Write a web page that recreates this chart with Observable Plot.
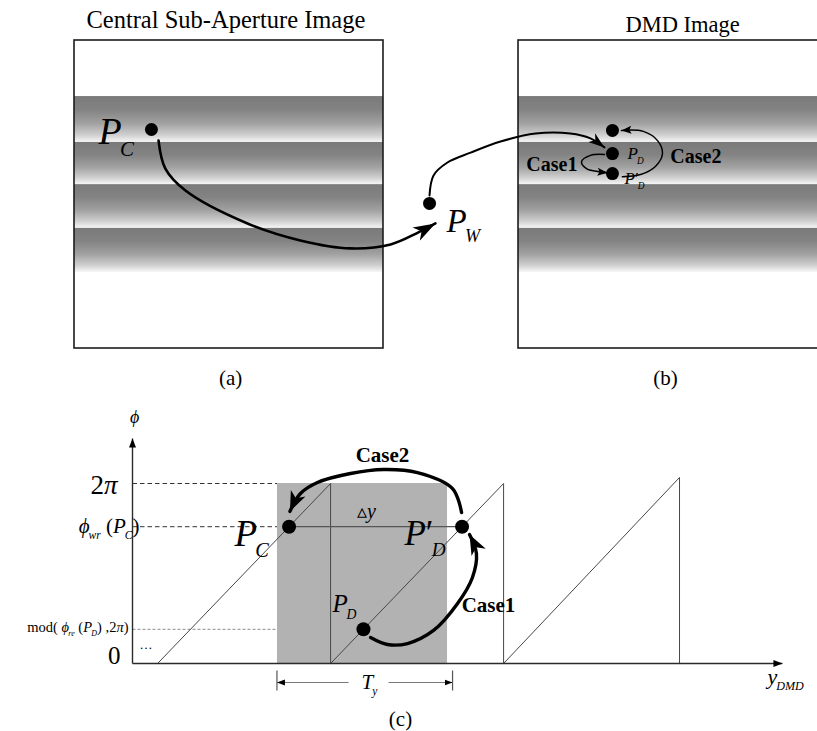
<!DOCTYPE html>
<html><head><meta charset="utf-8">
<script src="https://cdn.jsdelivr.net/npm/d3@7"></script>
<script src="https://cdn.jsdelivr.net/npm/@observablehq/plot@0.6"></script>
<style>
html,body{margin:0;padding:0;background:#fff;overflow:hidden}
#wrap{position:relative;width:817px;height:731px;background:#fff}
#top,#bottom{position:absolute;left:0}
#top{top:0}
#bottom{top:395px}
</style></head>
<body><div id="wrap"><div id="top"></div><div id="bottom"></div></div>
<script>
// ================= DATA =================
// Panels (a) and (b) — unit = side of one panel, y grows downward
const panelTitle = ["Central Sub-Aperture Image", "DMD Image"];
const panelTag = ["(a)", "(b)"];
const panelLeft = [0, 1.437];
const panelRight = [1, 2.437];
const titleX = [0.49, 1.968];
const titleY = [-0.065, -0.05];
const tagX = [0.505, 1.913];
const tagY = [1.097, 1.097];
const bandTop = [0.182, 0.331, 0.468, 0.610];
const bandBottom = [0.331, 0.468, 0.610, 0.753];

// pixels: P_C, P_W, DMD target, P_D, P'_D
const pixelX = [0.249, 1.149, 1.741, 1.741, 1.741];
const pixelY = [0.289, 0.529, 0.292, 0.367, 0.432];

// warp path P_C -> P_W
const warpX = [0.272, 0.294, 0.359, 0.560, 0.731, 0.893, 1.023, 1.113, 1.168];
const warpY = [0.325, 0.416, 0.487, 0.594, 0.649, 0.675, 0.662, 0.623, 0.594];
// mapping path P_W -> DMD
const mapX = [1.149, 1.162, 1.207, 1.282, 1.379, 1.492, 1.605, 1.670, 1.715];
const mapY = [0.503, 0.438, 0.396, 0.364, 0.328, 0.302, 0.302, 0.318, 0.347];
// Case1 / Case2 loops in (b)
const loop1X = [1.715, 1.670, 1.641, 1.657, 1.693, 1.725];
const loop1Y = [0.370, 0.373, 0.393, 0.416, 0.425, 0.429];
const loop2X = [1.773, 1.832, 1.880, 1.903, 1.887, 1.841, 1.770];
const loop2Y = [0.442, 0.435, 0.409, 0.367, 0.325, 0.295, 0.292];

// Chart (c) — x in periods T_y, y in units of π
const rampStart = [0.145, 1.145, 2.145];
const rampEnd = [1.145, 2.145, 3.162];
const rampTop = [2, 2, 2.067];
const xAxisEnd = 3.757;
const yAxisEnd = 2.5;
const levelPhase = [2, 1.52, 0.38];      // 2π, ϕwr(P_C), mod(ϕre(P_D),2π)
const levelReach = [1.145, 0.905, 1.335];
const windowLeft = 0.838, windowRight = 1.821;
const periodTicks = [0.835, 1.85];
const periodGap = [1.249, 1.480];
const periodY = -0.211, periodTickLow = -0.30, periodTickHigh = -0.078;
const pointX = [0.905, 1.905, 1.335];   // P_C, P'_D, P_D
const pointY = [1.52, 1.52, 0.38];
const case2X = [1.902, 1.850, 1.647, 1.451, 1.260, 1.069, 0.971, 0.910];
const case2Y = [1.678, 1.944, 2.122, 2.156, 2.111, 2.011, 1.889, 1.690];
const case1X = [1.376, 1.474, 1.590, 1.740, 1.879, 1.965, 1.988, 1.948];
const case1Y = [0.289, 0.211, 0.222, 0.367, 0.667, 0.956, 1.222, 1.433];

// ================= HELPERS =================
const SVGNS = "http://www.w3.org/2000/svg";
const SERIF = "'Liberation Serif','Times New Roman',serif";
const rows = (xs, ys) => xs.map((x, i) => ({x, y: ys[i]}));
const label = (t, x, y, o = {}) => Plot.text([t], {x: [x], y: [y], text: d => d, fontFamily: SERIF, ...o});

function addDefs(svg, heads, gradient) {
  const defs = d3.select(svg).insert("defs", ":first-child");
  if (gradient) {
    const g = defs.append("linearGradient").attr("id", "bandFill")
      .attr("x1", 0).attr("y1", 0).attr("x2", 0).attr("y2", 1);
    [[0, "#7a7a7a"], [0.3, "#838383"], [0.6, "#a2a2a2"], [0.85, "#d0d0d0"], [1, "#f6f6f6"]]
      .forEach(([o, c]) => g.append("stop").attr("offset", o).attr("stop-color", c));
  }
  for (const [id, L, W, notch] of heads) {
    defs.append("marker").attr("id", id).attr("markerUnits", "userSpaceOnUse")
      .attr("viewBox", `${-L} ${-L} ${2 * L} ${2 * L}`)
      .attr("markerWidth", 2 * L).attr("markerHeight", 2 * L)
      .attr("refX", 0).attr("refY", 0).attr("orient", "auto")
      .append("path").attr("d", `M0,0L${-L},${-W / 2}L${-L * notch},0L${-L},${W / 2}Z`).attr("fill", "#000");
  }
  for (const [id] of heads)
    d3.select(svg).selectAll(`g[aria-description="${id}"] path`).attr("marker-end", `url(#${id})`);
}

function richify(svg) {
  const SUB = 0.55, DOWN = 0.3, TUCK = 0.05;
  d3.select(svg).selectAll("text").each(function () {
    const raw = this.textContent;
    if (!/[*_]/.test(raw)) return;
    const tokens = raw.split(/(_\{[^}]*\}|\*)/).filter(t => t);
    this.textContent = "";
    let italic = false, cur = 0;
    for (const t of tokens) {
      if (t === "*") { italic = !italic; continue; }
      const sub = t.startsWith("_{");
      const scale = sub ? SUB : 1;
      const target = sub ? DOWN : 0;
      const ts = document.createElementNS(SVGNS, "tspan");
      ts.textContent = sub ? t.slice(2, -1) : t;
      if (sub) ts.setAttribute("font-size", SUB + "em");
      if (target !== cur) ts.setAttribute("dy", ((target - cur) / scale).toFixed(3) + "em");
      if (sub) ts.setAttribute("dx", (-TUCK / scale).toFixed(3) + "em");
      ts.setAttribute("font-style", italic ? "italic" : "normal");
      this.appendChild(ts);
      cur = target;
    }
  });
}

// ================= TOP: (a) & (b) =================
const bands = panelLeft.flatMap((l, p) => bandTop.map((t, k) => ({l, r: panelRight[p], t, b: bandBottom[k]})));

const topSvg = Plot.plot({
  width: 817, height: 395, margin: 0,
  x: {domain: [0, 2.437], range: [74, 827], axis: null},
  y: {domain: [0, 1], range: [40, 348], axis: null},
  style: {fontFamily: SERIF, background: "white", color: "black", overflow: "hidden"},
  marks: [
    Plot.rect(bands, {x1: "l", x2: "r", y1: "t", y2: "b", fill: "#999", ariaDescription: "band"}),
    Plot.rect(panelLeft, {x1: (d, i) => panelLeft[i], x2: (d, i) => panelRight[i], y1: () => 0, y2: () => 1,
      fill: "none", stroke: "#1c1c1c", strokeWidth: 1.6}),
    label(panelTitle[0], titleX[0], titleY[0], {fontSize: 24.5}),
    label(panelTitle[1], titleX[1], titleY[1], {fontSize: 22.5}),
    Plot.text(panelTag, {x: tagX, y: tagY, text: d => d, fontSize: 21, fontFamily: SERIF}),
    Plot.line(rows(warpX, warpY), {x: "x", y: "y", curve: "catmull-rom", stroke: "#000", strokeWidth: 2.6, ariaDescription: "headA"}),
    Plot.line(rows(mapX, mapY), {x: "x", y: "y", curve: "catmull-rom", stroke: "#000", strokeWidth: 2, ariaDescription: "headB"}),
    Plot.line(rows(loop1X, loop1Y), {x: "x", y: "y", curve: "catmull-rom", stroke: "#000", strokeWidth: 1.5, ariaDescription: "headS"}),
    Plot.line(rows(loop2X, loop2Y), {x: "x", y: "y", curve: "catmull-rom", stroke: "#000", strokeWidth: 1.5, ariaDescription: "headS2"}),
    Plot.dot(pixelX, {x: pixelX, y: pixelY, r: 6.5, fill: "#000", stroke: "none"}),
    label("*P_{C}*", 0.078, 0.298, {fontSize: 38, textAnchor: "start"}),
    label("*P_{W}*", 1.204, 0.589, {fontSize: 33, textAnchor: "start"}),
    label("*P_{D}*", 1.790, 0.366, {fontSize: 17, textAnchor: "start"}),
    label("*P*′*_{D}*", 1.780, 0.447, {fontSize: 17, textAnchor: "start"}),
    label("Case1", 1.545, 0.403, {fontSize: 20, fontWeight: "bold"}),
    label("Case2", 2.011, 0.376, {fontSize: 20, fontWeight: "bold"})
  ]
});
addDefs(topSvg, [["headA", 22, 15, 0.72], ["headB", 16, 11, 0.72], ["headS", 10, 8, 0.8], ["headS2", 10, 8, 0.8]], true);
d3.select(topSvg).selectAll('g[aria-description="band"] rect').attr("fill", "url(#bandFill)");
richify(topSvg);
document.getElementById("top").appendChild(topSvg);

// ================= BOTTOM: (c) =================
const rampRows = rampStart.flatMap((s, i) => [
  {x: s, y: 0, k: i}, {x: rampEnd[i], y: rampTop[i], k: i}, {x: rampEnd[i], y: 0, k: i}]);

const botSvg = Plot.plot({
  width: 817, height: 336, margin: 0,
  x: {domain: [0, 1], range: [132, 305], axis: null},
  y: {domain: [0, 2], range: [268, 88], axis: null},
  style: {fontFamily: SERIF, background: "white", color: "black", overflow: "hidden"},
  marks: [
    Plot.link([0, 1], {x1: () => 0, x2: i => levelReach[i], y1: i => levelPhase[i], y2: i => levelPhase[i],
      stroke: "#333", strokeWidth: 1, strokeDasharray: "4.5,3"}),
    Plot.link([2], {x1: () => 0, x2: i => levelReach[i], y1: i => levelPhase[i], y2: i => levelPhase[i],
      stroke: "#8a8a8a", strokeWidth: 1, strokeDasharray: "3,2"}),
    Plot.rect([0], {x1: () => windowLeft, x2: () => windowRight, y1: () => 0, y2: () => 2, fill: "#b2b2b2"}),
    Plot.line(rampRows, {x: "x", y: "y", z: "k", stroke: "#474747", strokeWidth: 1, curve: "linear"}),
    Plot.link([0], {x1: () => pointX[0], x2: () => pointX[1], y1: () => pointY[0], y2: () => pointY[1],
      stroke: "#555", strokeWidth: 1.2}),
    Plot.link([[xAxisEnd, 0], [0, yAxisEnd]], {x1: () => 0, y1: () => 0, x2: d => d[0], y2: d => d[1],
      stroke: "#2a2a2a", strokeWidth: 1.4, ariaDescription: "headAxis"}),
    Plot.link(periodTicks, {x1: d => d, x2: d => d, y1: () => periodTickLow, y2: () => periodTickHigh,
      stroke: "#555", strokeWidth: 1.2}),
    Plot.link([0, 1], {x1: i => periodGap[i], x2: i => periodTicks[i], y1: () => periodY, y2: () => periodY,
      stroke: "#777", strokeWidth: 1.2, ariaDescription: "headTy"}),
    Plot.line(rows(case2X, case2Y), {x: "x", y: "y", curve: "catmull-rom", stroke: "#000", strokeWidth: 3.4, ariaDescription: "headC"}),
    Plot.line(rows(case1X, case1Y), {x: "x", y: "y", curve: "catmull-rom", stroke: "#000", strokeWidth: 3.4, ariaDescription: "headC2"}),
    Plot.dot(pointX, {x: pointX, y: pointY, r: 7, fill: "#000", stroke: "none"}),
    label("*ϕ*", 0.012, 2.733, {fontSize: 18}),
    label("2*π*", -0.087, 1.981, {fontSize: 27, textAnchor: "end"}),
    label("*ϕ_{wr}* (*P_{C}*)", 0.040, 1.530, {fontSize: 21, textAnchor: "end"}),
    label("mod( *ϕ_{re}* (*P_{D}*) ,2*π*)", -0.023, 0.402, {fontSize: 14.5, textAnchor: "end"}),
    label("0", -0.069, 0.086, {fontSize: 25, textAnchor: "end"}),
    label("…", 0.040, 0.202, {fontSize: 13, textAnchor: "start"}),
    label("*P_{C}*", 0.590, 1.433, {fontSize: 37, textAnchor: "start"}),
    label("*P*′*_{D}*", 1.572, 1.436, {fontSize: 35, textAnchor: "start"}),
    label("*P_{D}*", 1.156, 0.663, {fontSize: 25, textAnchor: "start"}),
    label("Case2", 1.445, 2.311, {fontSize: 21, fontWeight: "bold"}),
    label("▵*y*", 1.353, 1.689, {fontSize: 20}),
    label("Case1", 2.058, 0.644, {fontSize: 21, fontWeight: "bold"}),
    label("*T_{y}*", 1.324, -0.207, {fontSize: 21, textAnchor: "start"}),
    label("*y_{DMD}*", 3.671, -0.144, {fontSize: 22, textAnchor: "start"}),
    label("(c)", 1.549, -0.618, {fontSize: 21})
  ]
});
addDefs(botSvg, [["headAxis", 9, 7, 1], ["headTy", 8, 6, 1], ["headC", 20, 16, 0.72], ["headC2", 20, 16, 0.72]], false);
richify(botSvg);
document.getElementById("bottom").appendChild(botSvg);
</script>
</body></html>
